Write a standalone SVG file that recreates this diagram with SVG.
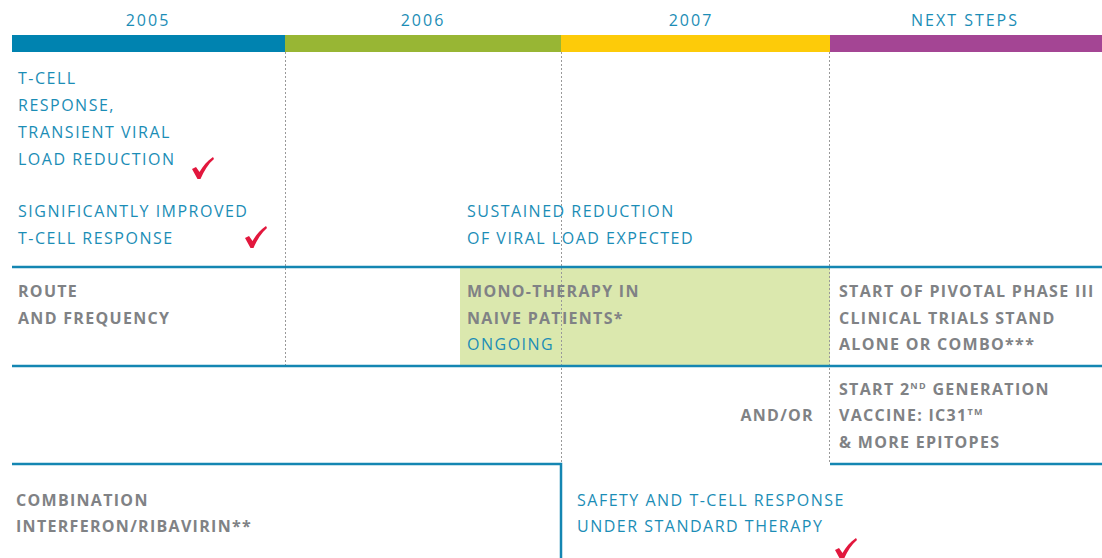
<svg xmlns="http://www.w3.org/2000/svg" width="1102" height="558" viewBox="0 0 1102 558">
  <style>
    .hdr { font-family: "Open Sans", "Liberation Sans", sans-serif; font-size: 16px; letter-spacing: 2px; fill: #1b8db6; text-anchor: middle; }
    .teal { font-family: "Open Sans", "Liberation Sans", sans-serif; font-size: 16px; letter-spacing: 1.5px; fill: #1b8db6; }
    .gray { font-family: "Open Sans", "Liberation Sans", sans-serif; font-size: 16px; font-weight: bold; letter-spacing: 1.3px; fill: #808285; }
    .rule { stroke: #1486b2; stroke-width: 2.5; fill: none; }
    .dash { stroke: #999; stroke-width: 1; stroke-dasharray: 2 2; fill: none; }
    .check { fill: #e2173d; }
  </style>
  <defs>
    <!-- brush-style check mark, origin at its top-left corner -->
    <path id="tick" d="M0 12 L4 10 L7.5 15 C11 9 15 4 21 0 L22 2 C16 7 12 14 8.5 22 L5.5 22 Z"/>
  </defs>
  <rect width="1102" height="558" fill="#ffffff"/>

  <!-- timeline header -->
  <g id="timeline">
    <rect x="12" y="35" width="273" height="17" fill="#0083b0"/>
    <rect x="285" y="35" width="276" height="17" fill="#98b634"/>
    <rect x="561" y="35" width="269" height="17" fill="#fdcb09"/>
    <rect x="830" y="35" width="272" height="17" fill="#a44594"/>
    <text class="hdr" x="148" y="26">2005</text>
    <text class="hdr" x="423" y="26">2006</text>
    <text class="hdr" x="691" y="26">2007</text>
    <text class="hdr" x="965" y="26">NEXT STEPS</text>
  </g>

  <!-- highlighted ongoing band -->
  <rect id="ongoing-band" x="460" y="268" width="370" height="97" fill="#dbe8ae"/>

  <!-- grid and connectors -->
  <g id="connectors">
    <line class="dash" x1="285.5" y1="52" x2="285.5" y2="365"/>
    <line class="dash" x1="561.5" y1="52" x2="561.5" y2="463"/>
    <line class="dash" x1="829.5" y1="52" x2="829.5" y2="463"/>
    <line class="rule" x1="12" y1="267" x2="1102" y2="267"/>
    <line class="rule" x1="12" y1="366" x2="1102" y2="366"/>
    <polyline class="rule" points="12,464 561,464 561,558"/>
    <line class="rule" x1="830" y1="464" x2="1102" y2="464"/>
  </g>

  <g id="tcell-response">
    <text class="teal" x="18" y="84">T-CELL</text>
    <text class="teal" x="18" y="111">RESPONSE,</text>
    <text class="teal" x="18" y="138">TRANSIENT VIRAL</text>
    <text class="teal" x="18" y="165">LOAD REDUCTION</text>
    <use href="#tick" class="check" x="192" y="157"/>
  </g>

  <g id="improved-response">
    <text class="teal" x="18" y="217">SIGNIFICANTLY IMPROVED</text>
    <text class="teal" x="18" y="244">T-CELL RESPONSE</text>
    <use href="#tick" class="check" x="245" y="226"/>
  </g>

  <g id="sustained-reduction">
    <text class="teal" x="467" y="217">SUSTAINED REDUCTION</text>
    <text class="teal" x="467" y="244">OF VIRAL LOAD EXPECTED</text>
  </g>

  <g id="route-frequency">
    <text class="gray" x="18" y="297">ROUTE</text>
    <text class="gray" x="18" y="324">AND FREQUENCY</text>
  </g>

  <g id="mono-therapy">
    <text class="gray" x="467" y="297">MONO-THERAPY IN</text>
    <text class="gray" x="467" y="324">NAIVE PATIENTS*</text>
    <text class="teal" x="467" y="350">ONGOING</text>
  </g>

  <g id="phase-three">
    <text class="gray" x="839" y="297">START OF PIVOTAL PHASE III</text>
    <text class="gray" x="839" y="324">CLINICAL TRIALS STAND</text>
    <text class="gray" x="839" y="350">ALONE OR COMBO***</text>
  </g>

  <g id="and-or">
    <text class="gray" x="814" y="421" text-anchor="end">AND/OR</text>
  </g>

  <g id="second-generation">
    <text class="gray" x="839" y="395">START 2<tspan font-size="9" dy="-6">ND</tspan><tspan dy="6"> GENERATION</tspan></text>
    <text class="gray" x="839" y="421">VACCINE: IC31<tspan font-size="9" dy="-6">TM</tspan></text>
    <text class="gray" x="839" y="448">&amp; MORE EPITOPES</text>
  </g>

  <g id="combination">
    <text class="gray" x="16" y="506">COMBINATION</text>
    <text class="gray" x="16" y="532">INTERFERON/RIBAVIRIN**</text>
  </g>

  <g id="standard-therapy">
    <text class="teal" x="577" y="506">SAFETY AND T-CELL RESPONSE</text>
    <text class="teal" x="577" y="532">UNDER STANDARD THERAPY</text>
    <use href="#tick" class="check" x="835" y="538"/>
  </g>
</svg>
